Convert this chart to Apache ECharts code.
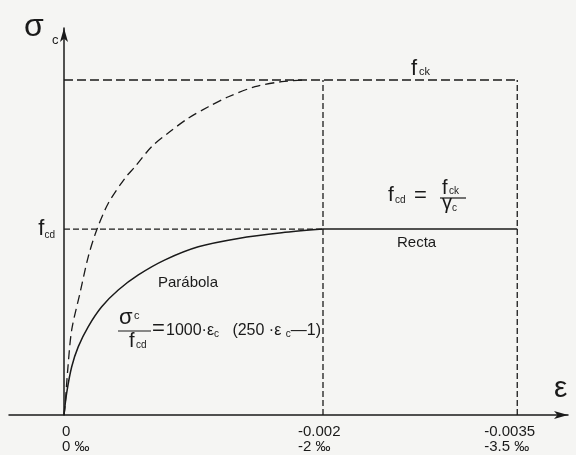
<!DOCTYPE html>
<html><head><meta charset="utf-8">
<script src="https://cdn.jsdelivr.net/npm/echarts@6/dist/echarts.min.js"></script>
<style>html,body{margin:0;padding:0;background:#f5f5f3}#c{width:576px;height:455px}</style>
</head><body><div id="c"></div>
<script>
// ---- data (ε strain, σ relative to fck) ----
const tickValues = [0, -0.002, -0.0035];
const tickLines1 = ['0', '-0.002', '-0.0035'];
const tickLines2 = ['0 ‰', '-2 ‰', '-3.5 ‰'];
const fckVal = 1.0;
const fcdVal = 0.555;
const epsC2 = -0.002;
const epsCu = -0.0035;
const parabolaEps = [0, -0.0000208, -0.0000595, -0.0001104, -0.0001876, -0.000291, -0.000419, -0.000574, -0.00078, -0.001037, -0.001346, -0.001681, -0.002];
const parabolaSig = [0, 0.066, 0.144, 0.204, 0.264, 0.323, 0.373, 0.418, 0.463, 0.502, 0.527, 0.544, 0.555];
const fckCurveEps = [0, -0.0000077, -0.0000286, -0.0000595, -0.0001236, -0.0001876, -0.0002525, -0.000342, -0.000471, -0.000548, -0.000677, -0.000819, -0.00096, -0.001115, -0.00127, -0.001475, -0.001681, -0.001861];
const fckCurveSig = [0, 0.025, 0.134, 0.254, 0.364, 0.473, 0.552, 0.632, 0.707, 0.741, 0.801, 0.846, 0.886, 0.920, 0.950, 0.980, 0.995, 1.0];

const FONT = '"Liberation Sans", Arial, sans-serif';
const INK = '#1a1a1a';
const zip = (a, b) => a.map((v, i) => [v, b[i]]);

const X_MIN = -0.0038919, X_MAX = 0.0004247;
const GRID_L = 9, GRID_R = 8;
const PLOT_W = 576 - GRID_L - GRID_R;
// pixel offset of the ε = 0 position from the grid's left edge
const Y_AXIS_SHIFT = PLOT_W * X_MAX / (X_MAX - X_MIN);

function lineSeries(name, data, type, width, smooth) {
  return {
    name, type: 'line', data, symbol: 'none', smooth: smooth || false, silent: true,
    lineStyle: { color: INK, width: width, type: type }
  };
}

const tickRich = {
  a0: { fontSize: 15, fontFamily: FONT, color: INK, width: 32, padding: [0, 0, 0, 28], align: 'left', lineHeight: 15 },
  a1: { fontSize: 15, fontFamily: FONT, color: INK, width: 50, align: 'left', lineHeight: 15 },
  a2: { fontSize: 15, fontFamily: FONT, color: INK, width: 66, align: 'left', lineHeight: 15 }
};

function T(x, y, text, size, extra) {
  return { type: 'text', x, y, silent: true,
    style: Object.assign({ text, fontSize: size, fontFamily: FONT, fill: INK, align: 'left', verticalAlign: 'middle' }, extra || {}) };
}
function L(x1, y1, x2, y2) {
  return { type: 'line', silent: true, shape: { x1, y1, x2, y2 }, style: { stroke: INK, lineWidth: 1.2 } };
}
const formulaRich = {
  t: { fontSize: 16, fontFamily: FONT, fill: INK, lineHeight: 18, verticalAlign: 'bottom' },
  s: { fontSize: 10, fontFamily: FONT, fill: INK, lineHeight: 6, verticalAlign: 'bottom' }
};

const chart = echarts.init(document.getElementById('c'), null, { renderer: 'canvas' });
chart.setOption({
  backgroundColor: '#f5f5f3',
  animation: false,
  grid: { left: GRID_L, right: GRID_R, top: 28, bottom: 40, containLabel: false, outerBoundsMode: 'none' },
  xAxis: {
    type: 'value', inverse: true, min: X_MIN, max: X_MAX,
    splitLine: { show: false },
    axisTick: { show: false },
    axisLine: { show: true, onZero: true, symbol: ['none', 'arrow'], symbolSize: [6, 14],
      lineStyle: { color: INK, width: 1.5 } },
    axisLabel: {
      customValues: tickValues, margin: 9, color: INK, fontFamily: FONT, fontSize: 15,
      formatter: function (v) {
        const i = tickValues.findIndex(t => Math.abs(t - v) < 1e-9);
        if (i < 0) return '';
        return '{a' + i + '|' + tickLines1[i] + '}\n{a' + i + '|' + tickLines2[i] + '}';
      },
      rich: tickRich
    }
  },
  yAxis: {
    type: 'value', min: 0, max: 1.1552,
    offset: -Y_AXIS_SHIFT,
    splitLine: { show: false },
    axisTick: { show: false },
    axisLine: { show: true, onZero: false, symbol: ['none', 'arrow'], symbolSize: [6, 14],
      lineStyle: { color: INK, width: 1.5 } },
    axisLabel: {
      customValues: [fcdVal], margin: 9,
      formatter: function () { return '{f|f}{s|cd}'; },
      rich: {
        f: { fontSize: 22, fontFamily: FONT, color: INK, lineHeight: 22, verticalAlign: 'bottom' },
        s: { fontSize: 10, fontFamily: FONT, color: INK, lineHeight: 8, verticalAlign: 'bottom' }
      }
    }
  },
  series: [
    lineSeries('Parábola', zip(parabolaEps, parabolaSig), 'solid', 1.5, 0.3),
    lineSeries('fck curve', zip(fckCurveEps, fckCurveSig), [9, 5], 1.3, 0.3),
    lineSeries('Recta', [[epsC2, fcdVal], [epsCu, fcdVal]], 'solid', 1.5),
    lineSeries('fcd level', [[0, fcdVal], [epsC2, fcdVal]], [6, 3], 1.3),
    lineSeries('fck level', [[0, fckVal], [epsCu, fckVal]], [9, 4], 1.3),
    lineSeries('εc2', [[epsC2, 0], [epsC2, fckVal]], [6, 3], 1.3),
    lineSeries('εcu', [[epsCu, 0], [epsCu, fckVal]], [6, 3], 1.3)
  ],
  graphic: [
    T(24, 27, 'σ', 32), T(52, 40, 'c', 13),
    T(554, 389, 'ε', 30),
    T(411, 68.8, 'f', 22), T(419, 72.2, 'ck', 11),
    T(388, 195.6, 'f', 21), T(395, 200.5, 'cd', 10), T(414, 196, '=', 22),
    T(442, 188, 'f', 20), T(449, 191.5, 'ck', 10), L(440, 198, 466, 198),
    T(442, 203, 'γ', 20), T(452, 208.5, 'c', 10),
    T(397, 242.7, 'Recta', 15),
    T(158, 282.7, 'Parábola', 15),
    T(119, 318, 'σ', 22), T(134, 316.2, 'c', 11), L(118, 331, 151, 331),
    T(129, 341, 'f', 20), T(136, 345.5, 'cd', 10),
    T(152, 329, '=', 22),
    { type: 'text', x: 166, y: 330, silent: true,
      style: { text: '{t|1000·ε}{s|c}{t|   (250 ·ε }{s|c}{t|—1)}', rich: formulaRich,
        fontFamily: FONT, fill: INK, align: 'left', verticalAlign: 'middle' } }
  ]
});
</script>
</body></html>
